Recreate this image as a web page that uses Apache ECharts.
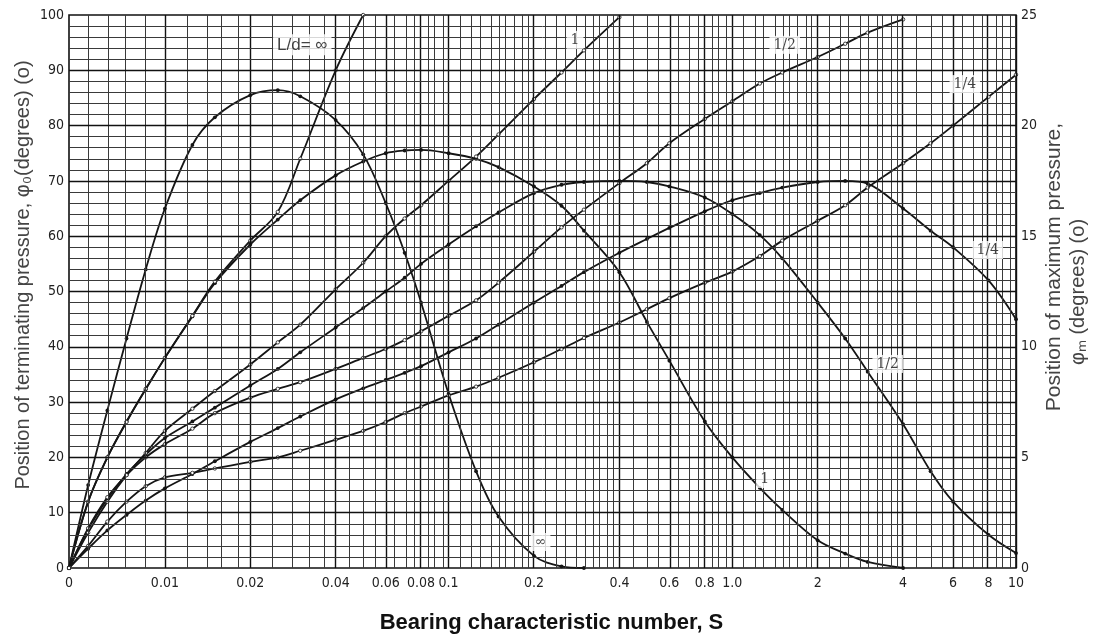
<!DOCTYPE html>
<html><head><meta charset="utf-8">
<script src="https://cdn.jsdelivr.net/npm/echarts@6/dist/echarts.min.js"></script>
<style>html,body{margin:0;padding:0;background:#fff}#c{width:1099px;height:639px}</style>
</head><body><div id="c"></div>
<script>
// Bearing characteristic number S (shared sample points)
const sValues = [0, 0.002, 0.004, 0.006, 0.008, 0.01, 0.0125, 0.015, 0.02, 0.025, 0.03, 0.04, 0.05, 0.06, 0.07, 0.08, 0.1, 0.125, 0.15, 0.2, 0.25, 0.3, 0.4, 0.5, 0.6, 0.8, 1, 1.25, 1.5, 2, 2.5, 3, 4, 5, 6, 8, 10];

// Position of terminating pressure phi0 (deg, left axis), filled dots
const phi0_inf = [0, 15, 28.5, 41.5, 54, 65, 76.5, 81.5, 85.5, 86.4, 85.3, 81, 74.8, 66, 57, 48, 31.5, 17.5, 9.3, 2.2, 0.3, 0, null, null, null, null, null, null, null, null, null, null, null, null, null, null, null];
const phi0_1 = [0, 12, 20, 26.5, 32.3, 38, 45.5, 51.5, 58.5, 63, 66.5, 71, 73.5, 75, 75.5, 75.6, 75, 74, 72.5, 69, 65.5, 61, 53.5, 44.5, 37.5, 26.5, 20, 14.5, 10.5, 5, 2.6, 1.1, 0, null, null, null, null];
const phi0_half = [0, 7, 12.5, 17, 20.5, 23.5, 26.5, 29, 33, 36, 39, 43.5, 47, 50, 52.5, 55, 58.5, 61.8, 64.3, 67.8, 69.3, 69.8, 70, 69.8, 69, 67, 64, 60.2, 56, 48, 41.5, 35.5, 26, 17.5, 12, 6, 2.7];
const phi0_quarter = [0, 3.5, 6.8, 9.6, 12.2, 14.4, 17, 19.3, 22.8, 25.3, 27.4, 30.5, 32.5, 34, 35.3, 36.5, 39, 41.5, 44, 48, 51, 53.5, 57, 59.5, 61.5, 64.5, 66.5, 67.8, 68.8, 69.8, 70, 69.5, 65, 61, 58, 52, 45];

// Position of maximum pressure phim (deg, right axis), open circles
const phim_inf = [0, 3, 5, 6.6, 8.1, 9.5, 11.4, 12.95, 14.8, 16.1, 18.5, 22.5, 25, null, null, null, null, null, null, null, null, null, null, null, null, null, null, null, null, null, null, null, null, null, null, null, null];
const phim_1 = [0, 1.6, 3, 4.2, 5.2, 6.2, 7.2, 8, 9.2, 10.2, 11, 12.6, 13.8, 15, 15.8, 16.4, 17.5, 18.6, 19.6, 21.2, 22.4, 23.4, 24.9, null, null, null, null, null, null, null, null, null, null, null, null, null, null];
const phim_half = [0, 1.8, 3.2, 4.2, 5, 5.6, 6.3, 7, 7.7, 8.1, 8.4, 9, 9.5, 9.9, 10.3, 10.7, 11.4, 12.1, 12.9, 14.3, 15.4, 16.2, 17.4, 18.3, 19.2, 20.3, 21.1, 21.9, 22.4, 23.1, 23.7, 24.2, 24.8, null, null, null, null];
const phim_quarter = [0, 1, 2.1, 3, 3.7, 4.1, 4.3, 4.5, 4.8, 5, 5.3, 5.8, 6.2, 6.6, 7, 7.3, 7.8, 8.2, 8.6, 9.3, 9.9, 10.4, 11.1, 11.7, 12.2, 12.9, 13.4, 14.1, 14.8, 15.7, 16.4, 17.2, 18.3, 19.2, 20, 21.3, 22.3];

// Axis ticks
const xTickValues = [0, 0.01, 0.02, 0.04, 0.06, 0.08, 0.1, 0.2, 0.4, 0.6, 0.8, 1, 2, 4, 6, 8, 10];
const xTickLabels = ['0', '0.01', '0.02', '0.04', '0.06', '0.08', '0.1', '0.2', '0.4', '0.6', '0.8', '1.0', '2', '4', '6', '8', '10'];

// Curve annotations (S, left-axis degrees, text)
const noteS = [0.0305, 0.279, 1.53, 6.6, 7.95, 3.53, 1.30, 0.211];
const noteV = [94.6, 95.5, 94.6, 87.5, 57.5, 36.9, 16.1, 4.7];
const noteText = ['L/d= ∞', '1', '1/2', '1/4', '1/4', '1/2', '1', '∞'];

// Graph-paper rulings (S values)
const gridS = [];
(function () {
  const segs = [[0, 0.01, 0.002], [0.01, 0.02, 0.002], [0.02, 0.04, 0.004], [0.04, 0.1, 0.005], [0.1, 0.2, 0.01], [0.2, 0.4, 0.02], [0.4, 1, 0.05], [1, 2, 0.1], [2, 4, 0.2], [4, 10, 0.5]];
  segs.forEach(function (g) {
    const n = Math.round((g[1] - g[0]) / g[2]);
    for (let i = 1; i <= n; i++) gridS.push(+(g[0] + i * g[2]).toFixed(5));
  });
})();

const G = 0.338; // width of the 0..0.01 segment, in decades
function toU(s) { return s <= 0.01 ? (-2 - G) + G * (s / 0.01) : Math.log10(s); }
const U_MIN = -2 - G, U_MAX = 1;

function pairs(vals) {
  const out = [];
  sValues.forEach(function (s, i) { if (vals[i] != null) out.push([toU(s), vals[i]]); });
  return out;
}

const FONT = "'DejaVu Sans Condensed','DejaVu Sans',sans-serif";
const TFONT = "'Liberation Sans', Arial, sans-serif";
const INK = '#151515';

function arch(name, vals) {
  return { name: name, type: 'line', yAxisIndex: 0, data: pairs(vals), smooth: 0.35, z: 4,
    symbol: 'circle', symbolSize: 3.8, showAllSymbol: true,
    itemStyle: { color: INK }, lineStyle: { color: INK, width: 1.8 } };
}
function rising(name, vals) {
  return { name: name, type: 'line', yAxisIndex: 1, data: pairs(vals), smooth: 0.35, z: 4,
    symbol: 'circle', symbolSize: 3.4, showAllSymbol: true,
    itemStyle: { color: '#fff', borderColor: INK, borderWidth: 0.8 }, lineStyle: { color: INK, width: 1.8 } };
}

const vLines = gridS.map(function (s) {
  const major = xTickValues.indexOf(s) >= 0;
  return { xAxis: toU(s), lineStyle: { color: major ? '#111' : '#3a3a3a', width: major ? 1.4 : 1, type: 'solid' } };
});
const hLines = [];
for (let v = 2; v < 100; v += 2) {
  const major = v % 10 === 0;
  hLines.push({ yAxis: v, lineStyle: { color: major ? '#111' : '#3a3a3a', width: major ? 1.4 : 1, type: 'solid' } });
}

const noteData = noteS.map(function (s, i) {
  const item = { value: [toU(s), noteV[i]], name: noteText[i] };
  if (i === 0) item.label = { fontFamily: TFONT, fontSize: 17 };
  return item;
});

const chart = echarts.init(document.getElementById('c'), null, { renderer: 'canvas' });
chart.setOption({
  animation: false,
  backgroundColor: '#fff',
  grid: { left: 69, right: 83, top: 15, bottom: 66, show: true, borderColor: '#111', borderWidth: 1.6, backgroundColor: '#fff' },
  xAxis: {
    type: 'value', min: U_MIN, max: U_MAX,
    name: 'Bearing characteristic number, S', nameLocation: 'middle', nameGap: 44,
    nameTextStyle: { fontFamily: TFONT, fontWeight: 'bold', fontSize: 22, color: '#111', padding: [0, 0, 0, 18] },
    axisLine: { show: false }, axisTick: { show: false }, splitLine: { show: false },
    axisLabel: { customValues: xTickValues.map(toU), margin: 8, fontFamily: FONT, fontSize: 14, color: '#222',
      formatter: function (v) {
        for (let i = 0; i < xTickValues.length; i++) if (Math.abs(toU(xTickValues[i]) - v) < 1e-6) return xTickLabels[i];
        return '';
      } }
  },
  yAxis: [
    { type: 'value', min: 0, max: 100, interval: 10, position: 'left',
      axisLine: { show: false }, axisTick: { show: false }, splitLine: { show: false },
      axisLabel: { margin: 5, fontFamily: FONT, fontSize: 14, color: '#222' } },
    { type: 'value', min: 0, max: 25, interval: 5, position: 'right',
      axisLine: { show: false }, axisTick: { show: false }, splitLine: { show: false },
      axisLabel: { margin: 5, fontFamily: FONT, fontSize: 14, color: '#222' } }
  ],
  graphic: [
    { type: 'text', x: 23, y: 275, rotation: Math.PI / 2, z: 10,
      style: { text: 'Position of terminating pressure, φ₀(degrees) (o)', fill: '#444',
        font: "20px " + TFONT, align: 'center', verticalAlign: 'middle', textAlign: 'center', textVerticalAlign: 'middle' } },
    { type: 'text', x: 1054, y: 267, rotation: Math.PI / 2, z: 10,
      style: { text: 'Position of maximum pressure,', fill: '#444',
        font: "21px " + TFONT, align: 'center', verticalAlign: 'middle', textAlign: 'center', textVerticalAlign: 'middle' } },
    { type: 'text', x: 1078, y: 292, rotation: Math.PI / 2, z: 10,
      style: { text: 'φₘ (degrees) (o)', fill: '#444',
        font: "20px " + TFONT, align: 'center', verticalAlign: 'middle', textAlign: 'center', textVerticalAlign: 'middle' } }
  ],
  series: [
    { name: 'rulings', type: 'line', yAxisIndex: 0, data: [[U_MIN, 0], [U_MAX, 0]], symbol: 'none', silent: true, z: 1,
      lineStyle: { opacity: 0 },
      markLine: { silent: true, symbol: ['none', 'none'], label: { show: false }, animation: false, data: vLines.concat(hLines) } },
    arch('φ0 L/d=∞', phi0_inf),
    arch('φ0 L/d=1', phi0_1),
    arch('φ0 L/d=1/2', phi0_half),
    arch('φ0 L/d=1/4', phi0_quarter),
    rising('φm L/d=∞', phim_inf),
    rising('φm L/d=1', phim_1),
    rising('φm L/d=1/2', phim_half),
    rising('φm L/d=1/4', phim_quarter),
    { name: 'notes', type: 'scatter', yAxisIndex: 0, z: 6, symbolSize: 0, silent: true,
      data: noteData,
      label: { show: true, position: 'inside', formatter: '{b}',
        fontFamily: "'DejaVu Serif',serif", fontSize: 14, color: '#111', backgroundColor: '#fff', padding: [2, 4] } }
  ]
});
</script></body></html>
